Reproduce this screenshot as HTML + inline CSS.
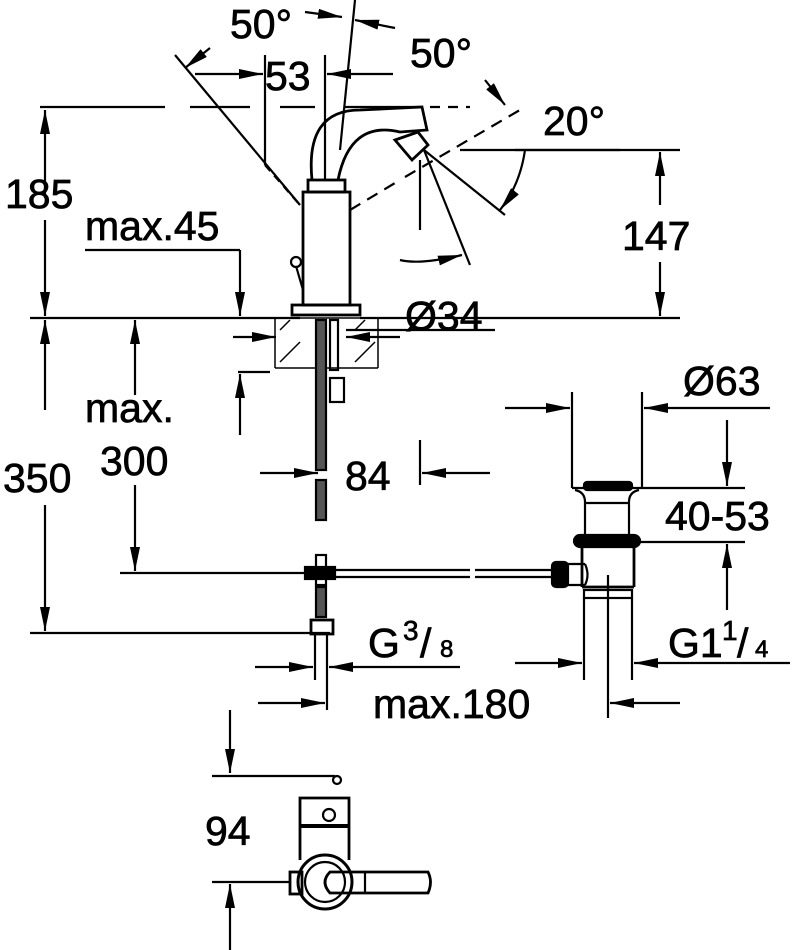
<!DOCTYPE html>
<html><head><meta charset="utf-8"><style>
html,body{margin:0;padding:0;background:#fff}
svg{display:block}
text{font-family:"Liberation Sans",sans-serif;font-size:41px;fill:#000;stroke:#000;stroke-width:0.7}
</style></head><body>
<svg width="794" height="950" viewBox="0 0 794 950" xmlns="http://www.w3.org/2000/svg">
<defs>
<marker id="a" viewBox="0 0 24 10" refX="24" refY="5" markerWidth="24" markerHeight="10" markerUnits="userSpaceOnUse" orient="auto"><path d="M0,0 L24,5 L0,10 Z" fill="#000"/></marker>
</defs>
<g stroke="#000" stroke-width="2.2" fill="none">
<path d="M40,107 H165 M190,107 H250 M280,107 H315 M345,107 H420"/>
<path d="M430,107 H470" stroke-dasharray="10,8"/>
<line x1="45" y1="198" x2="45" y2="110" marker-end="url(#a)"/>
<line x1="45" y1="220" x2="45" y2="316" marker-end="url(#a)"/>
<line x1="30" y1="318" x2="300" y2="318"/>
<line x1="360" y1="318" x2="680" y2="318"/>
<line x1="460" y1="150" x2="680" y2="150"/>
<line x1="660" y1="205" x2="660" y2="152" marker-end="url(#a)"/>
<line x1="660" y1="262" x2="660" y2="316" marker-end="url(#a)"/>
<path d="M85,250 H240"/>
<line x1="240" y1="250" x2="240" y2="316" marker-end="url(#a)"/>
<line x1="265" y1="55" x2="265" y2="165"/>
<line x1="325" y1="55" x2="325" y2="180"/>
<line x1="195" y1="74" x2="263" y2="74" marker-end="url(#a)"/>
<line x1="393" y1="74" x2="327" y2="74" marker-end="url(#a)"/>
<line x1="175" y1="55" x2="300" y2="205"/>
<path d="M265,165 L300,205" stroke-dasharray="8,6"/>
<line x1="355" y1="0" x2="340" y2="150"/>
<line x1="305" y1="12" x2="342" y2="17" marker-end="url(#a)"/>
<line x1="395" y1="28" x2="355" y2="20" marker-end="url(#a)"/>
<line x1="210" y1="48" x2="185" y2="68" marker-end="url(#a)"/>
<path d="M350,210 L400,180 M405,177 L525,107" stroke-dasharray="12,8"/>
<line x1="485" y1="80" x2="505" y2="105" marker-end="url(#a)"/>
<line x1="424" y1="150" x2="470" y2="265"/>
<line x1="424" y1="150" x2="505" y2="215"/>
<line x1="420" y1="160" x2="420" y2="230"/>
<path d="M525,150 Q520,185 500,210" marker-end="url(#a)"/>
<path d="M400,260 Q420,265 462,255" marker-end="url(#a)"/>
<path d="M515,150 H620"/>
<rect x="303" y="192" width="47" height="113" stroke-width="2.8"/>
<rect x="308" y="180" width="37" height="12" stroke-width="2.8"/>
<rect x="292" y="305" width="68" height="10" stroke-width="2.8"/>
<path d="M312,180 Q305,110 360,110 L422,107 L427,130 L400,132 Q350,120 338,180" stroke-width="2.8"/>
<path d="M395,140 L418,132 L428,145 L412,160 Z" stroke-width="2.8"/>
<circle cx="296" cy="262" r="5"/>
<line x1="296" y1="266" x2="303" y2="290"/>
<path d="M275,318 H378 M275,368 H378 M275,318 V368 M378,318 V368" stroke-width="1.5"/>
<path d="M280,330 L290,320 M280,362 L300,342 M355,330 L365,320 M355,362 L375,342" stroke-width="1.5"/>
<rect x="316" y="320" width="10" height="150" fill="#555"/>
<rect x="316" y="480" width="10" height="40" fill="#555"/>
<rect x="330" y="320" width="8" height="50"/>
<rect x="330" y="378" width="14" height="24"/>
<line x1="233" y1="337" x2="276" y2="337" marker-end="url(#a)"/>
<line x1="400" y1="337" x2="346" y2="337" marker-end="url(#a)"/>
<line x1="346" y1="330" x2="495" y2="330"/>
<line x1="45" y1="410" x2="45" y2="320" marker-end="url(#a)"/>
<line x1="45" y1="505" x2="45" y2="631" marker-end="url(#a)"/>
<line x1="30" y1="633" x2="330" y2="633"/>
<line x1="135" y1="395" x2="135" y2="320" marker-end="url(#a)"/>
<line x1="135" y1="485" x2="135" y2="571" marker-end="url(#a)"/>
<line x1="238" y1="372" x2="270" y2="372"/>
<line x1="240" y1="435" x2="240" y2="374" marker-end="url(#a)"/>
<line x1="260" y1="473" x2="318" y2="473" marker-end="url(#a)"/>
<line x1="490" y1="473" x2="422" y2="473" marker-end="url(#a)"/>
<line x1="420" y1="440" x2="420" y2="485"/>
<line x1="120" y1="573" x2="305" y2="573"/>
<path d="M335,570 H470 M335,577 H470 M475,570 H552 M475,577 H552"/>
<rect x="316" y="555" width="10" height="30"/>
<rect x="305" y="567" width="30" height="12" fill="#000"/>
<rect x="316" y="587" width="10" height="30" fill="#555"/>
<rect x="311" y="620" width="22" height="14" stroke-width="2.8"/>
<line x1="315" y1="634" x2="315" y2="680"/>
<line x1="327" y1="634" x2="327" y2="710"/>
<line x1="255" y1="667" x2="313" y2="667" marker-end="url(#a)"/>
<line x1="460" y1="667" x2="329" y2="667" marker-end="url(#a)"/>
<line x1="572" y1="392" x2="572" y2="488"/>
<line x1="642" y1="392" x2="642" y2="488"/>
<line x1="505" y1="408" x2="570" y2="408" marker-end="url(#a)"/>
<line x1="770" y1="408" x2="644" y2="408" marker-end="url(#a)"/>
<line x1="572" y1="488" x2="745" y2="488"/>
<line x1="620" y1="542" x2="745" y2="542"/>
<line x1="727" y1="420" x2="727" y2="486" marker-end="url(#a)"/>
<line x1="727" y1="610" x2="727" y2="544" marker-end="url(#a)"/>
<rect x="584" y="482" width="48" height="8" rx="3" fill="#000"/>
<path d="M575,490 Q585,492 585,502 L585,537 M639,490 Q629,492 629,502 L629,537 M585,503 H629"/>
<rect x="574" y="535" width="66" height="12" rx="6" fill="#000"/>
<path d="M582,547 V587 M634,547 V587 M582,587 H634" stroke-width="2.8"/>
<rect x="552" y="562" width="16" height="25" rx="4" fill="#000"/>
<path d="M568,564 H585 M568,585 H585 M585,564 Q590,575 585,585"/>
<rect x="584" y="590" width="48" height="8"/>
<line x1="584" y1="598" x2="584" y2="680"/>
<line x1="632" y1="598" x2="632" y2="680"/>
<line x1="608" y1="575" x2="608" y2="718"/>
<line x1="515" y1="663" x2="582" y2="663" marker-end="url(#a)"/>
<line x1="790" y1="663" x2="634" y2="663" marker-end="url(#a)"/>
<line x1="258" y1="703" x2="325" y2="703" marker-end="url(#a)"/>
<line x1="680" y1="703" x2="610" y2="703" marker-end="url(#a)"/>
<line x1="230" y1="710" x2="230" y2="773" marker-end="url(#a)"/>
<line x1="212" y1="776" x2="335" y2="776"/>
<line x1="212" y1="882" x2="290" y2="882"/>
<line x1="230" y1="950" x2="230" y2="884" marker-end="url(#a)"/>
<path d="M300,860 V798 H349 V860" stroke-width="2.8"/>
<path d="M300,826 H349" stroke-width="4"/>
<circle cx="329" cy="815" r="6"/>
<circle cx="337" cy="780" r="4"/>
<circle cx="325" cy="882" r="27" stroke-width="3"/>
<circle cx="325" cy="882" r="20"/>
<rect x="290" y="872" width="12" height="22" stroke-width="2.8"/>
<path d="M330,872 H428 Q433,882 428,893 H330 Q320,882 330,872 Z" stroke-width="2.8"/>
<line x1="365" y1="872" x2="365" y2="893"/>
</g>
<text x="230" y="38">50°</text>
<text x="265" y="90">53</text>
<text x="410" y="67">50°</text>
<text x="543" y="135">20°</text>
<text x="5" y="208">185</text>
<text x="85" y="240">max.45</text>
<text x="622" y="250">147</text>
<text x="405" y="330">Ø34</text>
<text x="683" y="395">Ø63</text>
<text x="85" y="422">max.</text>
<text x="100" y="475">300</text>
<text x="3" y="492">350</text>
<text x="345" y="490">84</text>
<text x="665" y="530">40-53</text>
<text x="368" y="657">G</text>
<text x="403" y="640" style="font-size:28px">3</text>
<text x="420" y="657">/</text>
<text x="440" y="657" style="font-size:24px">8</text>
<text x="668" y="657">G1</text>
<text x="722" y="640" style="font-size:28px">1</text>
<text x="737" y="657">/</text>
<text x="755" y="657" style="font-size:24px">4</text>
<text x="373" y="718">max.180</text>
<text x="205" y="845">94</text>
</svg>
</body></html>
